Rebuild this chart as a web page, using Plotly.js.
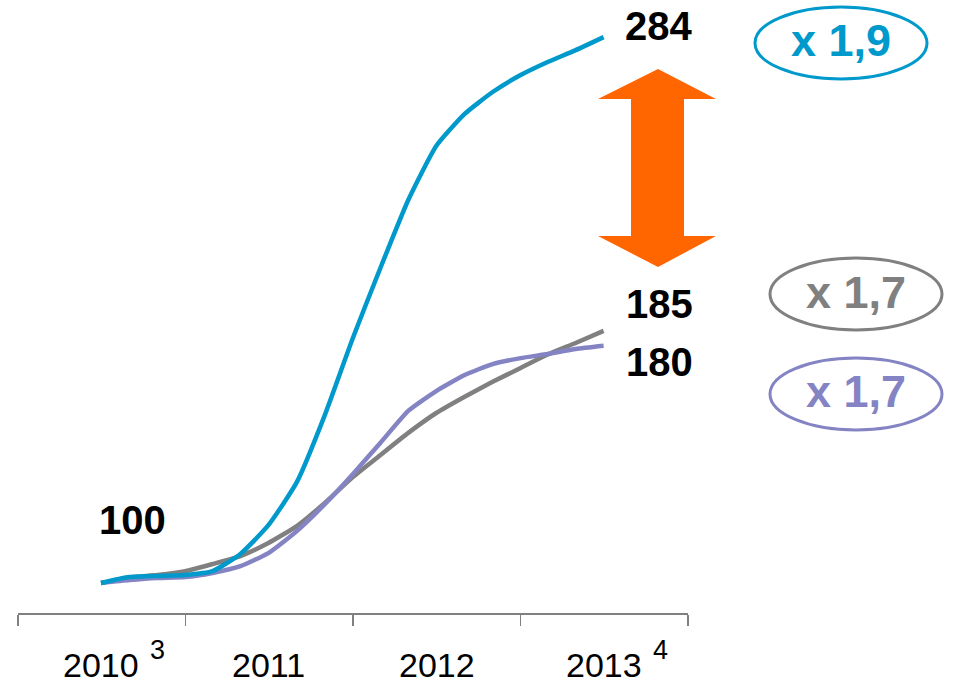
<!DOCTYPE html>
<html>
<head>
<meta charset="utf-8">
<script src="https://cdn.plot.ly/plotly-3.0.1.min.js"></script>
<style>html,body{margin:0;padding:0;background:#fff;}#chart{width:954px;height:685px;}</style>
</head>
<body>
<div id="chart"></div>
<script>
// Data (index, mid-2010 = 100), read every two months
const dates = ["2010-07-01","2010-09-01","2010-11-01","2011-01-01","2011-03-01","2011-05-01","2011-07-01","2011-09-01","2011-11-01","2012-01-01","2012-03-01","2012-05-01","2012-07-01","2012-09-01","2012-11-01","2013-01-01","2013-03-01","2013-05-01","2013-07-01"];
const blueValues   = [100, 102.0, 102.4, 102.7, 104.0, 109.8, 119.5, 134.0, 156.6, 182.5, 206.1, 229.1, 247.3, 258.1, 265.5, 271.2, 275.6, 279.6, 284];
const grayValues   = [100, 101.9, 102.7, 104.0, 106.4, 109.1, 113.5, 119.2, 127.0, 135.7, 143.1, 150.6, 157.3, 162.8, 167.8, 172.5, 177.0, 180.9, 185];
const purpleValues = [100, 101.0, 101.7, 102.0, 103.4, 105.7, 110.1, 117.5, 126.6, 136.7, 147.2, 158.0, 164.7, 170.1, 173.8, 175.8, 177.2, 178.9, 180];
const yearTicks  = ["2010-01-01","2011-01-01","2012-01-01","2013-01-01","2014-01-01"];
const yearMids   = ["2010-07-02","2011-07-02","2012-07-02","2013-07-02"];
const yearLabels = ["2010","2011","2012","2013"];
const yearNotes  = ["3","","","4"];
const growthLabels = ["x 1,9","x 1,7","x 1,7"];

const W = 954, H = 685;
const px = x => x / W;
const py = y => 1 - y / H;

const BLUE = "#0099cc", GRAY = "#808080", PURPLE = "#8484c4", ORANGE = "#ff6600";
const FONT = "Liberation Sans, Arial, sans-serif";

function line(vals, color) {
  return {x: dates, y: vals, type: "scatter", mode: "lines",
    line: {color: color, width: 4.5, shape: "spline", smoothing: 0.5},
    hoverinfo: "skip", showlegend: false};
}
const traces = [line(grayValues, GRAY), line(purpleValues, PURPLE), line(blueValues, BLUE)];

const annotations = [];
yearLabels.forEach((t, i) => {
  annotations.push({x: yearMids[i], xref: "x", y: py(665), yref: "paper", text: t, showarrow: false,
    xanchor: "center", yanchor: "middle", font: {family: FONT, size: 34, color: "#000"}});
  if (yearNotes[i]) {
    annotations.push({x: yearMids[i], xref: "x", y: py(650), yref: "paper", text: yearNotes[i], showarrow: false,
      xanchor: "left", yanchor: "middle", xshift: 47, font: {family: FONT, size: 27, color: "#000"}});
  }
});
function valLabel(v, x, y) {
  annotations.push({x: px(x), xref: "paper", y: py(y), yref: "paper", text: String(v), showarrow: false,
    xanchor: "center", yanchor: "middle", font: {family: FONT, size: 40, color: "#000", weight: "bold"}});
}
valLabel(blueValues[blueValues.length - 1], 658, 26);
valLabel(grayValues[grayValues.length - 1], 659, 304);
valLabel(purpleValues[purpleValues.length - 1], 659, 362);
valLabel(blueValues[0], 132, 520);

const ovals = [
  {cx: 841, cy: 43, color: BLUE, text: growthLabels[0]},
  {cx: 856, cy: 294, color: GRAY, text: growthLabels[1]},
  {cx: 856, cy: 394, color: PURPLE, text: growthLabels[2]}
];
const shapes = [];
ovals.forEach(o => {
  shapes.push({type: "circle", xref: "paper", yref: "paper",
    x0: px(o.cx - 86), x1: px(o.cx + 86), y0: py(o.cy + 36), y1: py(o.cy - 36),
    line: {color: o.color, width: 3}, fillcolor: "rgba(0,0,0,0)"});
  annotations.push({x: px(o.cx), xref: "paper", y: py(o.cy - 2), yref: "paper", text: o.text, showarrow: false,
    xanchor: "center", yanchor: "middle", font: {family: FONT, size: 45, color: o.color, weight: "bold"}});
});

// double arrow
const arrowPts = [[658,69],[716,99],[684,99],[684,236],[716,236],[658,267],[598,236],[631,236],[631,99],[598,99]];
const path = arrowPts.map((p, i) => (i ? "L" : "M") + px(p[0]).toFixed(5) + "," + py(p[1]).toFixed(5)).join(" ") + " Z";
shapes.push({type: "path", xref: "paper", yref: "paper", path: path, fillcolor: ORANGE, line: {width: 0}});

const layout = {
  width: W, height: H,
  margin: {l: 0, r: 0, t: 0, b: 0},
  paper_bgcolor: "#fff", plot_bgcolor: "#fff",
  showlegend: false,
  xaxis: {type: "date", domain: [px(18), px(688)], range: ["2010-01-01", "2014-01-01"],
    tickvals: yearTicks, showticklabels: false, ticks: "outside", ticklen: 11, tickwidth: 1.5, tickcolor: GRAY,
    showline: true, linecolor: GRAY, linewidth: 2, showgrid: false, zeroline: false, fixedrange: true},
  yaxis: {domain: [1 - 613 / H, 1], range: [89.9, 296.5], visible: false, showgrid: false, zeroline: false, fixedrange: true},
  annotations: annotations,
  shapes: shapes
};
Plotly.newPlot("chart", traces, layout, {displayModeBar: false, staticPlot: true});
</script>
</body>
</html>
